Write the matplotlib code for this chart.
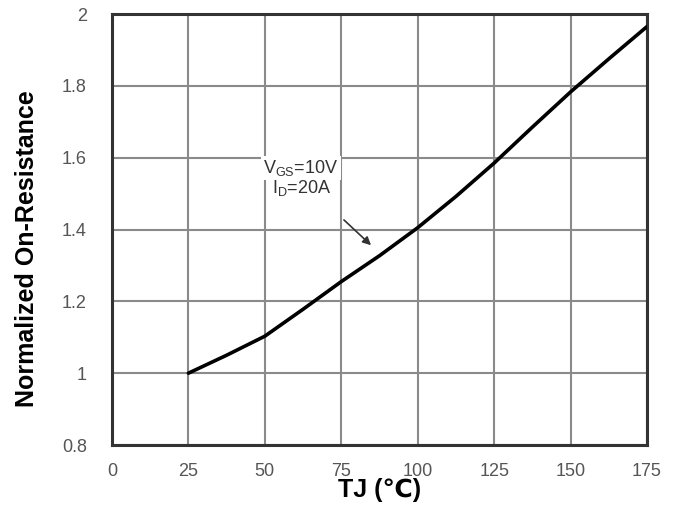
import matplotlib
matplotlib.use("Agg")
import matplotlib.pyplot as plt

# junction temperature (C) vs normalized on-resistance
tj = [25, 37.5, 50, 62.5, 75, 87.5, 100, 112.5, 125, 137.5, 150, 162.5, 175]
r_norm = [1.0, 1.05, 1.103, 1.178, 1.255, 1.327, 1.405, 1.492, 1.585, 1.685, 1.783, 1.875, 1.965]

x_ticks = [0, 25, 50, 75, 100, 125, 150, 175]
y_ticks = [0.8, 1.0, 1.2, 1.4, 1.6, 1.8, 2.0]
y_tick_labels = ['0.8', '1', '1.2', '1.4', '1.6', '1.8', '2']

plt.rcParams['font.family'] = ['Liberation Sans', 'DejaVu Sans']
plt.rcParams['mathtext.fontset'] = 'custom'
plt.rcParams['mathtext.rm'] = 'Liberation Sans'

fig = plt.figure(figsize=(6.85, 5.15), dpi=100)
ax = fig.add_axes([0.1635, 0.1359, 0.781, 0.8369])

ax.plot(tj, r_norm, color='black', lw=2.6, solid_capstyle='round',
	solid_joinstyle='round', zorder=3)

ax.set_xlim(0, 175)
ax.set_ylim(0.8, 2.0)
ax.set_xticks(x_ticks)
ax.set_yticks(y_ticks)
ax.set_yticklabels(y_tick_labels)
ax.grid(True, color='#8a8a8a', lw=1.5)
ax.tick_params(length=0, labelsize=13, labelcolor='#555555')
ax.tick_params(axis='y', pad=18)
ax.tick_params(axis='x', pad=13)
for s in ax.spines.values():
	s.set_linewidth(2.2)
	s.set_color('#333333')

ax.set_xlabel('TJ (\u2103)', fontsize=18, fontweight='bold')
ax.set_ylabel('Normalized On-Resistance', fontsize=18, fontweight='bold')
ax.xaxis.set_label_coords(0.501, -0.076)
ax.yaxis.set_label_coords(-0.137, 0.455)

# condition label, white box cuts the grid behind it
ax.text(49.4, 1.571, r'V$_{\mathrm{GS}}$=10V', fontsize=13, color='#333333',
	va='center', ha='left', zorder=4,
	bbox=dict(facecolor='white', edgecolor='none', pad=1.5))
ax.text(52.3, 1.515, r'I$_{\mathrm{D}}$=20A', fontsize=13, color='#333333',
	va='center', ha='left', zorder=4,
	bbox=dict(facecolor='white', edgecolor='none', pad=1.5))
ax.annotate('', xy=(85.4, 1.351), xytext=(75.2, 1.432),
	arrowprops=dict(arrowstyle='-|>', color='#333333', lw=1.2, mutation_scale=12),
	zorder=4)

fig.savefig('out.png', dpi=100)
